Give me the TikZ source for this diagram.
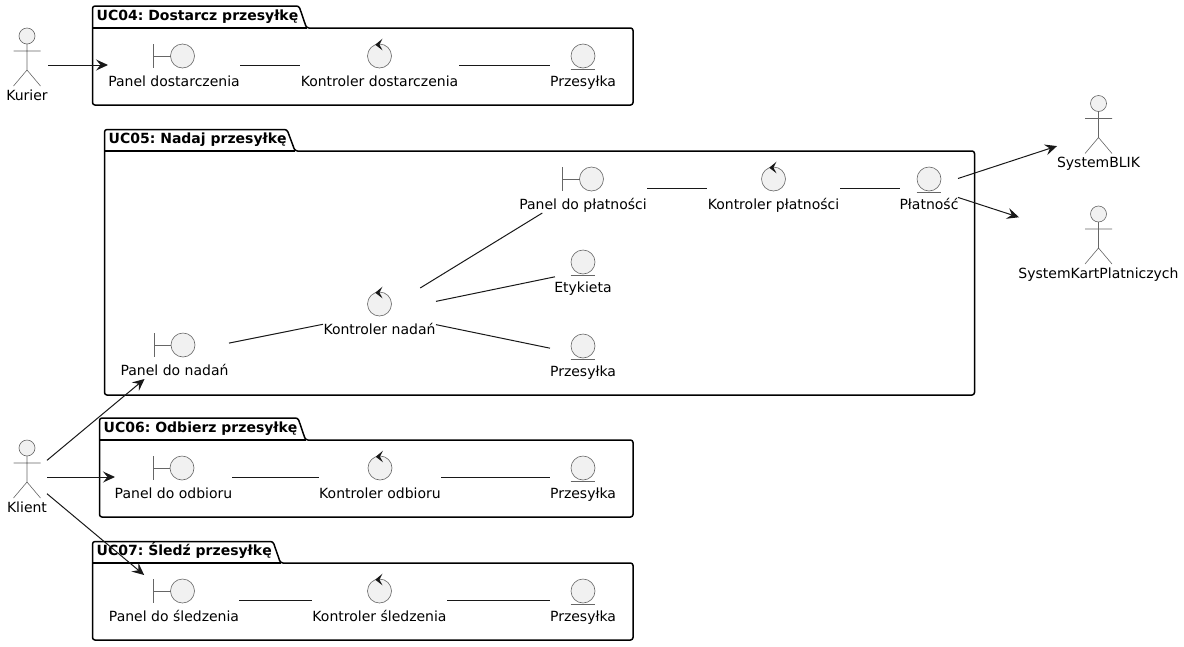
\documentclass[tikz,border=0pt]{standalone}
\usepackage{fontspec}
\setmainfont{DejaVu Sans}
\usetikzlibrary{arrows.meta}
\definecolor{ink}{HTML}{181818}
\definecolor{iconink}{HTML}{666666}
\definecolor{iconfill}{HTML}{F1F1F1}
\tikzset{
  hitbox/.style={inner sep=0pt,outer sep=0pt,minimum height=50pt},
  iconline/.style={draw=iconink,line width=0.6pt},
  iconcircle/.style={circle,draw=iconink,line width=0.6pt,fill=iconfill,minimum size=24pt,inner sep=0pt,outer sep=0pt},
  lab/.style={font=\fontsize{14}{16}\selectfont\frenchspacing,text=black,inner sep=0pt,anchor=base},
  pkgline/.style={draw=black,line width=1.5pt,rounded corners=2.5pt},
  pkgtitle/.style={font=\fontsize{14}{16}\selectfont\bfseries\frenchspacing,text=black,inner sep=0pt,anchor=base west},
  link/.style={draw=ink,line width=1pt},
  arrowlink/.style={link,-{Stealth[length=12pt,width=11pt,inset=4.5pt]}}
}
% name, cx, cy, width, label
\newcommand\hitlabel[5]{%
  \node[hitbox,minimum width=#4pt] (#1) at (#2,#3) {};
  \node[lab] (#1-l) at (#2,#3+21) {#5};}
\newcommand\bnd[5]{\hitlabel{#1}{#2}{#3}{#4}{#5}%
  \node[iconcircle] (#1-i) at (#2+8.5,#3-9) {};
  \draw[iconline] (#2-20.5,#3-21) -- (#2-20.5,#3+3);
  \draw[iconline] (#2-20.5,#3-9) -- (#1-i.west);}
\newcommand\ctl[5]{\hitlabel{#1}{#2}{#3}{#4}{#5}%
  \node[iconcircle] (#1-i) at (#2,#3-9) {};
  \fill[ink] (#2+3,#3-26.3) -- (#2-4.3,#3-20.3) -- (#2+3,#3-14.7) -- (#2,#3-20.3) -- cycle;}
\newcommand\ent[5]{\hitlabel{#1}{#2}{#3}{#4}{#5}%
  \node[iconcircle] (#1-i) at (#2,#3-9) {};
  \draw[iconline] (#2-12.3,#3+4.5) -- (#2+12.3,#3+4.5);}
\newcommand\act[5]{%
  \node[inner sep=0pt,outer sep=0pt,minimum width=#4pt,minimum height=76pt] (#1) at (#2,#3) {};
  \node[lab] (#1-l) at (#2,#3+35) {#5};
  \node[iconcircle,minimum size=16pt] (#1-i) at (#2,#3-29) {};
  \draw[iconline] (#1-i.south) -- (#2,#3+5) (#2-13.5,#3-14) -- (#2+13.5,#3-14)
    (#2-13.5,#3+21) -- (#2,#3+5) -- (#2+13.5,#3+21);}
% name, left, tabtop, line, right, bottom, tabtopright, tabbotright, title
\newcommand\pkg[9]{%
  \draw[pkgline] (#2,#4) -- (#2,#3) -- (#7,#3) -- (#8,#4) -- (#5,#4) -- (#5,#6) -- (#2,#6) -- cycle;
  \draw[draw=black,line width=1.5pt] (#2,#4) -- (#8,#4);
  \node[pkgtitle] (#1) at (#2+4,#4-7.5) {#9};}
\begin{document}
\begin{tikzpicture}[x=1pt,y=-1pt]
\useasboundingbox (0,0) rectangle (1184,646);
\pkg{uc4}{92.5}{6}{28}{633}{105}{299}{306.5}{UC04: Dostarcz przesyłkę}
\pkg{uc5}{104.5}{129.5}{151}{974.5}{395}{287}{295}{UC05: Nadaj przesyłkę}
\pkg{uc6}{99.5}{418}{440}{633}{517}{298}{305.5}{UC06: Odbierz przesyłkę}
\pkg{uc7}{92.5}{541.5}{563}{633}{640}{273}{280.5}{UC07: Śledź przesyłkę}

\act{kurier}{27}{65}{42}{Kurier}
\act{klient}{27}{477}{40}{Klient}
\act{blik}{1098.5}{132.5}{83}{SystemBLIK}
\act{karty}{1098.5}{243}{159}{SystemKartPlatniczych}

\bnd{pdost}{174}{65}{132}{Panel dostarczenia}
\ctl{kdost}{379.5}{65}{159}{Kontroler dostarczenia}
\ent{edost}{583}{65}{66}{Przesyłka}

\bnd{pnad}{174.5}{354}{109}{Panel do nadań}
\ctl{knad}{379.5}{313}{113}{Kontroler nadań}
\bnd{pplat}{583}{188}{128}{Panel do płatności}
\ctl{kplat}{773.5}{188}{133}{Kontroler płatności}
\ent{eplat}{929}{188}{58}{Płatność}
\ent{eetyk}{583}{271}{56}{Etykieta}
\ent{enad}{583}{355}{66}{Przesyłka}

\bnd{podb}{173.5}{477}{117}{Panel do odbioru}
\ctl{kodb}{380}{477}{122}{Kontroler odbioru}
\ent{eodb}{583}{477}{66}{Przesyłka}

\bnd{psled}{174}{600}{130}{Panel do śledzenia}
\ctl{ksled}{379.5}{600}{135}{Kontroler śledzenia}
\ent{esled}{583}{600}{66}{Przesyłka}

\draw[link] (pdost) -- (kdost);
\draw[link] (kdost) -- (edost);
\draw[link] (pnad) -- (knad);
\draw[link] (knad) -- (pplat);
\draw[link] (knad) -- (eetyk);
\draw[link] (knad) -- (enad);
\draw[link] (pplat) -- (kplat);
\draw[link] (kplat) -- (eplat);
\draw[link] (podb) -- (kodb);
\draw[link] (kodb) -- (eodb);
\draw[link] (psled) -- (ksled);
\draw[link] (ksled) -- (esled);
\draw[arrowlink] (kurier) -- (pdost);
\draw[arrowlink] (klient) -- (pnad);
\draw[arrowlink] (klient) -- (podb);
\draw[arrowlink] (klient) -- (psled);
\draw[arrowlink] (eplat) -- (blik);
\draw[arrowlink] (eplat) -- (karty);
\end{tikzpicture}
\end{document}
